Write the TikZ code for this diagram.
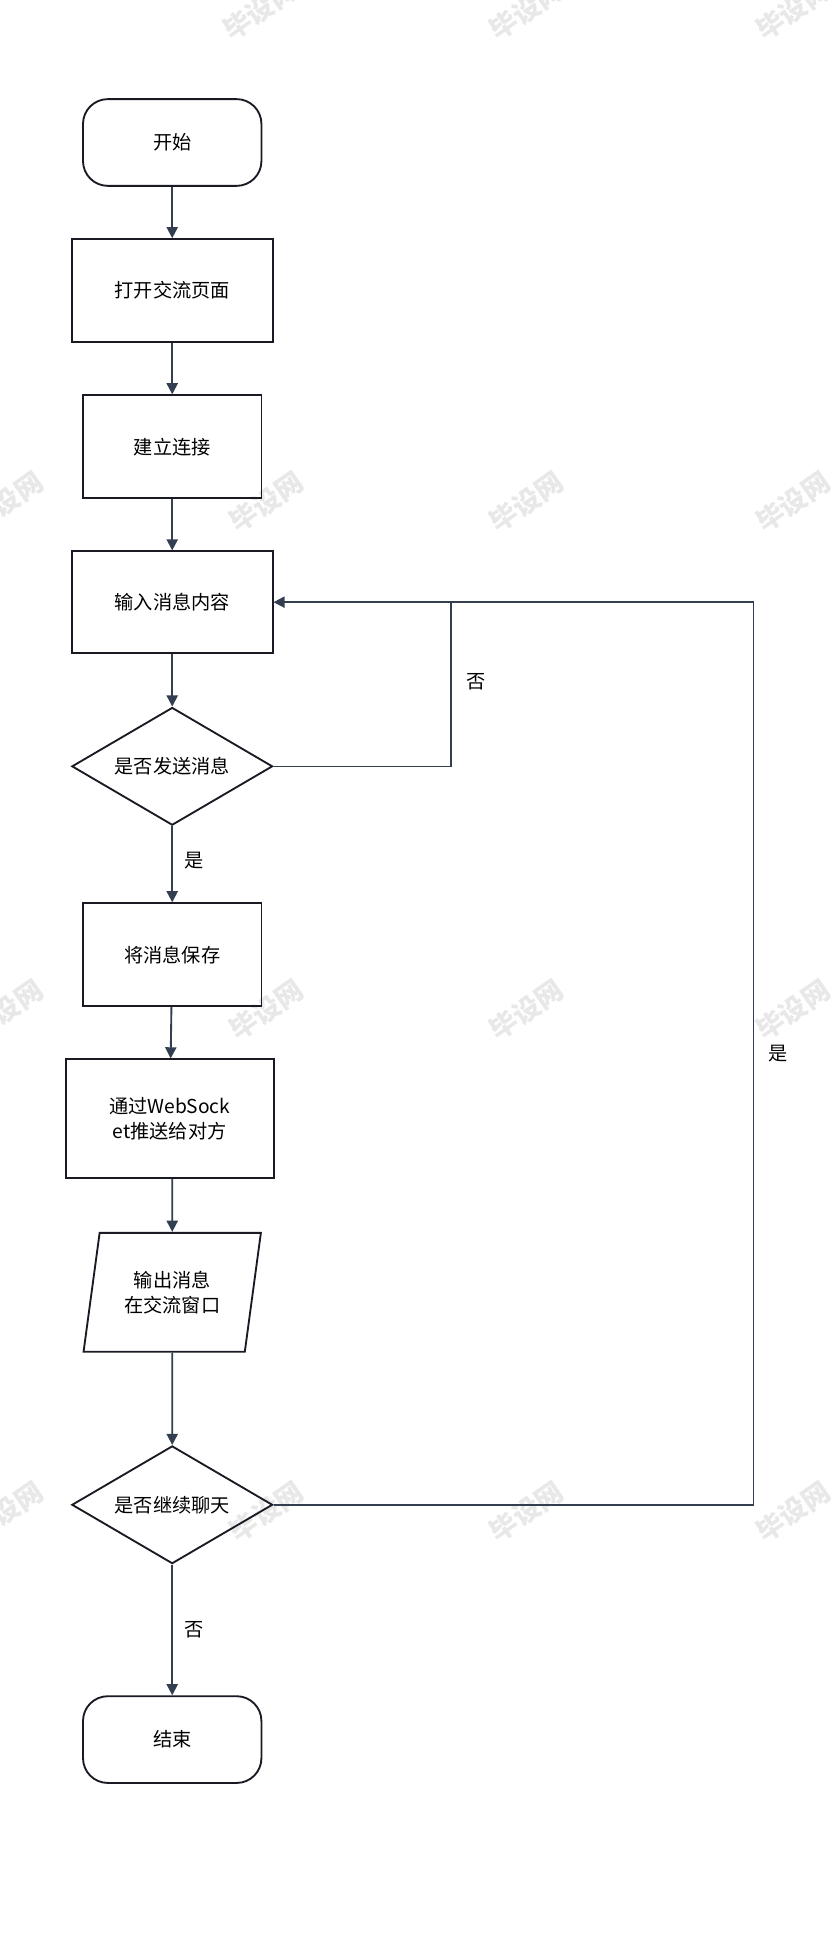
\documentclass[tikz,border=0pt]{standalone}
\usepackage{fontspec}
\setmainfont{Noto Sans CJK SC}
\usetikzlibrary{shapes.geometric,arrows.meta}
\definecolor{ln}{HTML}{333F50}
\definecolor{bd}{HTML}{1A1A24}
\tikzset{ft/.style={font=\fontsize{15.5}{20}\selectfont}}
\begin{document}
\begin{tikzpicture}[x=1pt,y=-1pt,
  box/.style={draw=bd,line width=1.5pt,minimum width=#1,inner sep=0pt,ft,align=center},
  term/.style={draw=bd,line width=1.5pt,rounded corners=20pt,minimum width=144pt,minimum height=70pt,ft},
  dia/.style={draw=bd,line width=1.5pt,diamond,aspect=1.7,minimum width=162pt,minimum height=95pt,inner sep=0pt,ft},
  arr/.style={draw=ln,line width=1.5pt,-{Triangle[length=9pt,width=9pt]}},
  ln/.style={draw=ln,line width=1.3pt},
  lab/.style={ft},
  wm/.style={text=black!9,font=\fontsize{22}{24}\selectfont\bfseries,rotate=35}]
\useasboundingbox (0,0) rectangle (673,1569);
\fill[white] (0,0) rectangle (673,1569);
\foreach \x in {210,425,640} \node[wm] at (\x,8) {毕设网};
\foreach \y in {405,815,1220} \foreach \x in {5,215,425,640} \node[wm] at (\x,\y) {毕设网};
\node[term] (s) at (139,115) {开始};
\node[box=162pt,minimum height=83pt] (a) at (139,234.5) {打开交流页面};
\node[box=144pt,minimum height=83pt] (b) at (139,360.5) {建立连接};
\node[box=162pt,minimum height=82pt] (c) at (139,486) {输入消息内容};
\node[dia] (d1) at (139,618.5) {是否发送消息};
\node[box=144pt,minimum height=83pt] (e) at (139,770.5) {将消息保存};
\node[box=168pt,minimum height=96pt] (f) at (137,903) {通过WebSock\\et推送给对方};
\node[draw=bd,line width=1.5pt,trapezium,trapezium left angle=76,trapezium right angle=104,minimum width=144pt,minimum height=96pt,inner sep=0pt,trapezium stretches=true,ft,align=center] (g) at (139,1043) {输出消息\\在交流窗口};
\node[dia] (d2) at (139,1214.5) {是否继续聊天};
\node[term] (t) at (139,1404) {结束};
\coordinate (j1) at (364,618.5);
\coordinate (j2) at (364,486);
\coordinate (k1) at (608,1214.5);
\coordinate (k2) at (608,486);
\draw[arr] (s) -- (a);
\draw[arr] (a) -- (b);
\draw[arr] (b) -- (c);
\draw[arr] (c) -- (d1);
\draw[arr] (d1) -- node[lab,right=6pt,pos=0.45]{是} (e);
\draw[arr] (e) -- (f);
\draw[arr] (f.south -| g.north) -- (g);
\draw[arr] (g) -- (d2);
\draw[arr] (d2) -- node[lab,right=6pt,pos=0.5]{否} (t);
\draw[ln] (d1.east) -- (j1) -- (j2);
\draw[ln] (d2.east) -- (k1) -- (k2) -- (j2);
\draw[arr] (j2) -- (c.east);
\node[lab] (n1) at (384,550) {否};
\node[lab] (n2) at (628,850) {是};
\end{tikzpicture}
\end{document}
